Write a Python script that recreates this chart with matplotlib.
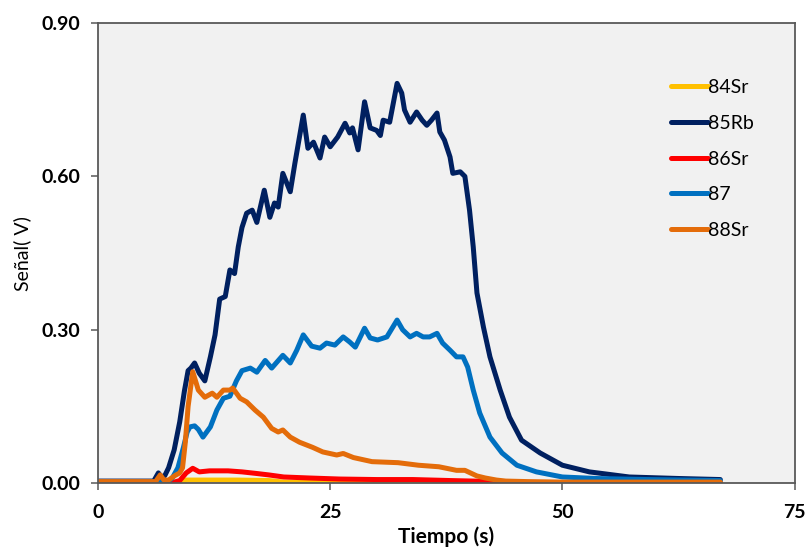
import matplotlib
matplotlib.use("Agg")
import matplotlib.pyplot as plt

plt.rcParams['font.family'] = ['Lato', 'DejaVu Sans']

# Señales por isótopo (tiempo en s, señal en V)
t_84sr = [0, 9.0, 9.5, 12.0, 15.0, 18.4, 20.0, 30.0, 67.0]
v_84sr = [0.001, 0.001, 0.006, 0.006, 0.006, 0.005, 0.002, 0.001, 0.001]

t_85rb = [0, 6.0, 6.5, 6.8, 7.2, 7.6, 8.2, 8.8, 9.3, 9.7, 10.0, 10.4, 10.9, 11.5,
          12.1, 12.6, 13.1, 13.7, 14.2, 14.7, 15.1, 15.5, 16.0, 16.6, 17.1, 17.9,
          18.5, 19.0, 19.4, 19.9, 20.7, 21.2, 22.1, 22.6, 23.2, 23.9, 24.4, 25.0,
          25.8, 26.6, 27.1, 27.4, 28.0, 28.7, 29.3, 30.0, 30.4, 30.7, 31.4, 32.2,
          32.7, 33.0, 33.6, 34.3, 34.9, 35.4, 35.9, 36.5, 36.8, 37.3, 37.9, 38.2,
          39.0, 39.5, 40.0, 40.4, 40.8, 41.5, 42.2, 43.3, 44.3, 45.6, 47.6, 50.0,
          52.9, 57.2, 62.6, 67.0]
v_85rb = [0.004, 0.004, 0.020, 0.012, 0.015, 0.030, 0.065, 0.120, 0.180, 0.220,
          0.225, 0.235, 0.215, 0.200, 0.247, 0.290, 0.360, 0.365, 0.417, 0.410,
          0.462, 0.500, 0.528, 0.534, 0.510, 0.573, 0.520, 0.548, 0.540, 0.606,
          0.570, 0.626, 0.720, 0.655, 0.667, 0.636, 0.677, 0.658, 0.677, 0.704,
          0.685, 0.695, 0.652, 0.746, 0.695, 0.690, 0.680, 0.710, 0.706, 0.782,
          0.763, 0.730, 0.706, 0.726, 0.710, 0.700, 0.710, 0.724, 0.687, 0.671,
          0.638, 0.606, 0.609, 0.600, 0.534, 0.462, 0.372, 0.305, 0.247, 0.182,
          0.129, 0.084, 0.059, 0.035, 0.022, 0.012, 0.009, 0.007]

t_86sr = [0, 8.0, 8.8, 9.5, 10.2, 10.9, 12.0, 14.0, 15.5, 17.0, 18.4, 20.0, 22.8,
          26.0, 30.0, 33.9, 38.0, 42.8, 45.0, 50.0, 67.0]
v_86sr = [0.001, 0.001, 0.005, 0.020, 0.029, 0.022, 0.024, 0.024, 0.022, 0.019,
          0.016, 0.012, 0.010, 0.008, 0.007, 0.007, 0.005, 0.003, 0.001, 0.001, 0.001]

t_87 = [0, 7.5, 8.0, 8.6, 9.2, 9.6, 9.9, 10.4, 10.8, 11.3, 12.1, 12.8, 13.5, 14.2,
        14.9, 15.5, 16.4, 17.1, 18.0, 18.7, 19.9, 20.7, 21.4, 22.1, 23.0, 23.9,
        24.6, 25.5, 26.4, 27.1, 27.7, 28.7, 29.3, 30.1, 31.1, 32.2, 32.8, 33.6,
        34.3, 35.0, 35.7, 36.5, 37.1, 37.9, 38.6, 39.3, 39.8, 40.4, 41.1, 42.2,
        43.5, 45.1, 47.2, 50.0, 53.7, 59.1, 67.0]
v_87 = [0.003, 0.003, 0.010, 0.030, 0.070, 0.100, 0.110, 0.112, 0.105, 0.090,
        0.110, 0.143, 0.166, 0.170, 0.200, 0.220, 0.225, 0.217, 0.240, 0.225,
        0.250, 0.235, 0.260, 0.290, 0.268, 0.264, 0.274, 0.270, 0.286, 0.276,
        0.266, 0.303, 0.284, 0.280, 0.286, 0.319, 0.300, 0.286, 0.293, 0.286,
        0.286, 0.293, 0.274, 0.260, 0.247, 0.247, 0.227, 0.182, 0.137, 0.090,
        0.059, 0.035, 0.022, 0.012, 0.009, 0.007, 0.005]

t_88sr = [0, 6.2, 6.7, 7.1, 7.6, 8.3, 8.8, 9.1, 9.4, 9.7, 10.2, 10.8, 11.5, 12.3,
          12.8, 13.5, 14.2, 14.5, 15.3, 16.0, 16.9, 17.8, 18.7, 19.4, 19.9, 20.7,
          21.7, 23.1, 24.2, 25.7, 26.4, 27.5, 29.5, 32.3, 34.5, 36.7, 38.6, 39.5,
          40.8, 41.7, 42.9, 43.9, 46.2, 50.0, 67.0]
v_88sr = [0.003, 0.003, 0.016, 0.006, 0.006, 0.015, 0.020, 0.030, 0.080, 0.150,
          0.218, 0.182, 0.168, 0.176, 0.168, 0.182, 0.182, 0.186, 0.166, 0.159,
          0.143, 0.129, 0.107, 0.100, 0.104, 0.090, 0.080, 0.070, 0.061, 0.055,
          0.058, 0.050, 0.042, 0.040, 0.035, 0.032, 0.025, 0.025, 0.014, 0.010,
          0.006, 0.004, 0.003, 0.002, 0.002]

series_names = ["84Sr", "85Rb", "86Sr", "87", "88Sr"]
series_colors = ["#FFC000", "#002060", "#FF0000", "#0070C0", "#E46C0A"]
series_t = [t_84sr, t_85rb, t_86sr, t_87, t_88sr]
series_v = [v_84sr, v_85rb, v_86sr, v_87, v_88sr]

x_ticks = [0, 25, 50, 75]
y_ticks = [0.0, 0.30, 0.60, 0.90]

fig = plt.figure(figsize=(8.10, 5.49), dpi=100)
ax = fig.add_axes([0.121, 0.120, 0.860, 0.838])
ax.set_facecolor("#F1F1F1")

for name, col, t, v in zip(series_names, series_colors, series_t, series_v):
    ax.plot(t, v, color=col, lw=3.6, label=name,
            solid_capstyle="round", solid_joinstyle="round")

ax.set_xlim(0, 75)
ax.set_ylim(0, 0.90)
ax.set_xticks(x_ticks)
ax.set_yticks(y_ticks)
ax.set_xticklabels([str(v) for v in x_ticks])
ax.set_yticklabels([f"{v:.2f}" for v in y_ticks])

for s in ax.spines.values():
    s.set_color("#595959")
    s.set_linewidth(1.3)
ax.tick_params(axis="both", direction="out", length=5, width=1.1,
               color="#595959", labelsize=14)
ax.tick_params(axis="x", pad=10)
ax.tick_params(axis="y", pad=8)
for lab in ax.get_xticklabels() + ax.get_yticklabels():
    lab.set_fontweight("bold")

ax.set_xlabel("Tiempo (s)", fontsize=15, fontweight="bold", labelpad=4)
ax.set_ylabel("Señal( V)", fontsize=14, labelpad=7)

leg = ax.legend(loc="upper left", bbox_to_anchor=(0.822, 0.878), frameon=False,
                fontsize=14, handlelength=1.9, handletextpad=0.0,
                labelspacing=0.96, borderaxespad=0, borderpad=0)

fig.savefig("out.png", dpi=100, facecolor="white")
